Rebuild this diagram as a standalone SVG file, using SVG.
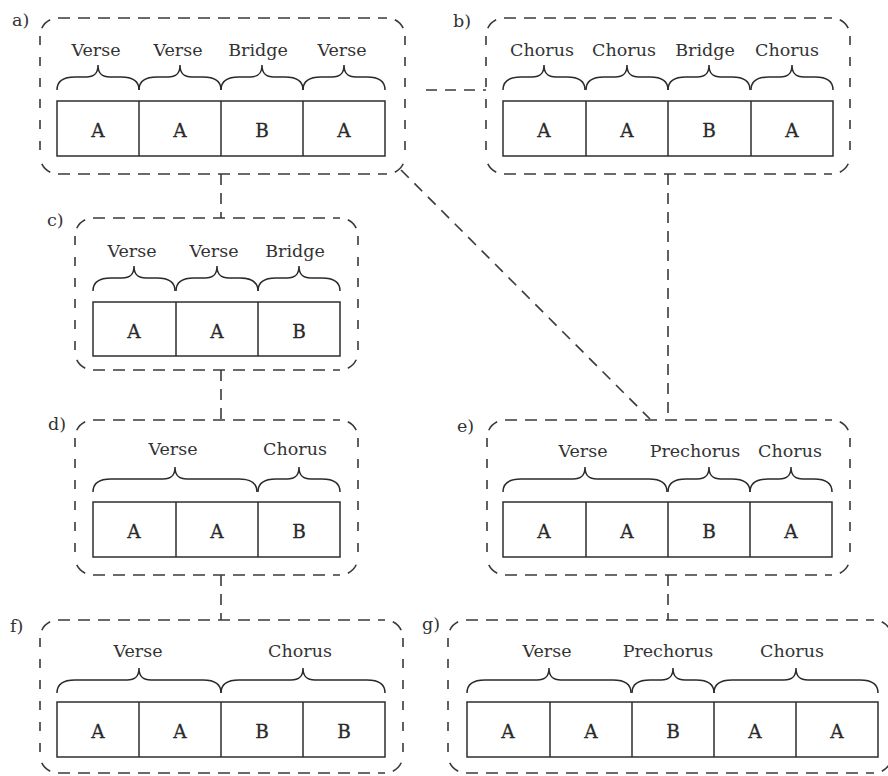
<svg xmlns="http://www.w3.org/2000/svg" xmlns:xlink="http://www.w3.org/1999/xlink" width="888" height="776" viewBox="0 0 888 776">
  <style>
    .h { fill: none; stroke: #3a3a3a; stroke-width: 1.6; stroke-dasharray: 12 8; }
    .v { fill: none; stroke: #3a3a3a; stroke-width: 1.6; stroke-dasharray: 9 12; }
    .c { fill: none; stroke: #3a3a3a; stroke-width: 1.6; stroke-dasharray: 0 8 12 20; }
    .link { fill: none; stroke: #3a3a3a; stroke-width: 1.6; stroke-dasharray: 11 8; }
    .cell { fill: none; stroke: #2e2e2e; stroke-width: 1.5; }
    .brace { fill: none; stroke: #2a2a2a; stroke-width: 1.5; }
    .lbl { font-family: "DejaVu Serif", "Liberation Serif", serif; font-size: 17.5px; fill: #333; text-anchor: middle; }
    .tag { font-family: "DejaVu Serif", "Liberation Serif", serif; font-size: 17.5px; fill: #333; }
    .sec { font-family: "DejaVu Serif", "Liberation Serif", serif; font-size: 18.5px; fill: #2a2a2a; stroke: #2a2a2a; stroke-width: 0.3; text-anchor: middle; }
  </style>
  <defs>
    <!-- curly braces drawn from their lower-left end point -->
    <path id="br1" class="brace" d="M0,0 C0,-8 6,-13 18,-13 L29,-13 C37,-13 41,-16 41,-25 C41,-16 45,-13 53,-13 L64,-13 C76,-13 82,-8 82,0"/>
    <path id="br2" class="brace" d="M0,0 C0,-8 6,-13 18,-13 L70,-13 C78,-13 82,-16 82,-25 C82,-16 86,-13 94,-13 L146,-13 C158,-13 164,-8 164,0"/>
  </defs>
  <rect width="888" height="776" fill="#fff"/>

  <!-- connectors -->
  <g id="connectors">
    <path class="link" d="M426,90 H486"/>
    <path class="link" d="M221,174 V218"/>
    <path class="link" d="M401,170 L650,419"/>
    <path class="link" d="M668,174 V420"/>
    <path class="link" d="M221,370 V420"/>
    <path class="link" d="M221,575 V620"/>
    <path class="link" d="M668,575 V620"/>
  </g>

  <!-- a) -->
  <g id="node-a">
    <path class="h" d="M58,18 H387 M58,174 H387"/>
    <path class="v" d="M40,36 V156 M405,36 V156"/>
    <path class="c" d="M40,36 A18,18 0 0 1 58,18 M387,18 A18,18 0 0 1 405,36 M405,156 A18,18 0 0 1 387,174 M58,174 A18,18 0 0 1 40,156"/>
    <text class="tag" x="12" y="26">a)</text>
    <use xlink:href="#br1" x="57" y="90"/>
    <use xlink:href="#br1" x="139" y="90"/>
    <use xlink:href="#br1" x="221" y="90"/>
    <use xlink:href="#br1" x="303" y="90"/>
    <text class="lbl" x="96" y="56">Verse</text>
    <text class="lbl" x="178" y="56">Verse</text>
    <text class="lbl" x="258" y="56">Bridge</text>
    <text class="lbl" x="342" y="56">Verse</text>
    <rect class="cell" x="57" y="101" width="328" height="55"/>
    <path class="cell" d="M139,101 V156 M221,101 V156 M303,101 V156"/>
    <text class="sec" x="98" y="137">A</text>
    <text class="sec" x="180" y="137">A</text>
    <text class="sec" x="262" y="137">B</text>
    <text class="sec" x="344" y="137">A</text>
  </g>

  <!-- b) -->
  <g id="node-b">
    <path class="h" d="M504,18 H832 M504,174 H832"/>
    <path class="v" d="M486,36 V156 M850,36 V156"/>
    <path class="c" d="M486,36 A18,18 0 0 1 504,18 M832,18 A18,18 0 0 1 850,36 M850,156 A18,18 0 0 1 832,174 M504,174 A18,18 0 0 1 486,156"/>
    <text class="tag" x="453" y="27">b)</text>
    <use xlink:href="#br1" x="503" y="90"/>
    <use xlink:href="#br1" x="586" y="90"/>
    <use xlink:href="#br1" x="668" y="90"/>
    <use xlink:href="#br1" x="751" y="90"/>
    <text class="lbl" x="542" y="56">Chorus</text>
    <text class="lbl" x="624" y="56">Chorus</text>
    <text class="lbl" x="705" y="56">Bridge</text>
    <text class="lbl" x="787" y="56">Chorus</text>
    <rect class="cell" x="503" y="101" width="330" height="55"/>
    <path class="cell" d="M586,101 V156 M668,101 V156 M751,101 V156"/>
    <text class="sec" x="544" y="137">A</text>
    <text class="sec" x="627" y="137">A</text>
    <text class="sec" x="709" y="137">B</text>
    <text class="sec" x="792" y="137">A</text>
  </g>

  <!-- c) -->
  <g id="node-c">
    <path class="h" d="M93,218 H340 M93,370 H340"/>
    <path class="v" d="M75,236 V352 M358,236 V352"/>
    <path class="c" d="M75,236 A18,18 0 0 1 93,218 M340,218 A18,18 0 0 1 358,236 M358,352 A18,18 0 0 1 340,370 M93,370 A18,18 0 0 1 75,352"/>
    <text class="tag" x="47" y="226">c)</text>
    <use xlink:href="#br1" x="93" y="291"/>
    <use xlink:href="#br1" x="176" y="291"/>
    <use xlink:href="#br1" x="258" y="291"/>
    <text class="lbl" x="132" y="257">Verse</text>
    <text class="lbl" x="214" y="257">Verse</text>
    <text class="lbl" x="295" y="257">Bridge</text>
    <rect class="cell" x="93" y="302" width="247" height="54"/>
    <path class="cell" d="M176,302 V356 M258,302 V356"/>
    <text class="sec" x="134" y="338">A</text>
    <text class="sec" x="217" y="338">A</text>
    <text class="sec" x="299" y="338">B</text>
  </g>

  <!-- d) -->
  <g id="node-d">
    <path class="h" d="M93,420 H340 M93,575 H340"/>
    <path class="v" d="M75,438 V557 M358,438 V557"/>
    <path class="c" d="M75,438 A18,18 0 0 1 93,420 M340,420 A18,18 0 0 1 358,438 M358,557 A18,18 0 0 1 340,575 M93,575 A18,18 0 0 1 75,557"/>
    <text class="tag" x="48" y="430">d)</text>
    <use xlink:href="#br2" x="93" y="492"/>
    <use xlink:href="#br1" x="258" y="492"/>
    <text class="lbl" x="173" y="455">Verse</text>
    <text class="lbl" x="295" y="455">Chorus</text>
    <rect class="cell" x="93" y="502" width="247" height="55"/>
    <path class="cell" d="M176,502 V557 M258,502 V557"/>
    <text class="sec" x="134" y="538">A</text>
    <text class="sec" x="217" y="538">A</text>
    <text class="sec" x="299" y="538">B</text>
  </g>

  <!-- e) -->
  <g id="node-e">
    <path class="h" d="M505,420 H832 M505,575 H832"/>
    <path class="v" d="M487,438 V557 M850,438 V557"/>
    <path class="c" d="M487,438 A18,18 0 0 1 505,420 M832,420 A18,18 0 0 1 850,438 M850,557 A18,18 0 0 1 832,575 M505,575 A18,18 0 0 1 487,557"/>
    <text class="tag" x="457" y="432">e)</text>
    <use xlink:href="#br2" x="503" y="492"/>
    <use xlink:href="#br1" x="668" y="492"/>
    <use xlink:href="#br1" x="750" y="492"/>
    <text class="lbl" x="583" y="457">Verse</text>
    <text class="lbl" x="695" y="457">Prechorus</text>
    <text class="lbl" x="790" y="457">Chorus</text>
    <rect class="cell" x="503" y="502" width="329" height="55"/>
    <path class="cell" d="M586,502 V557 M668,502 V557 M750,502 V557"/>
    <text class="sec" x="544" y="538">A</text>
    <text class="sec" x="627" y="538">A</text>
    <text class="sec" x="709" y="538">B</text>
    <text class="sec" x="791" y="538">A</text>
  </g>

  <!-- f) -->
  <g id="node-f">
    <path class="h" d="M58,620 H385 M58,773 H385"/>
    <path class="v" d="M40,638 V755 M403,638 V755"/>
    <path class="c" d="M40,638 A18,18 0 0 1 58,620 M385,620 A18,18 0 0 1 403,638 M403,755 A18,18 0 0 1 385,773 M58,773 A18,18 0 0 1 40,755"/>
    <text class="tag" x="10" y="632">f)</text>
    <use xlink:href="#br2" x="57" y="693"/>
    <use xlink:href="#br2" x="221" y="693"/>
    <text class="lbl" x="138" y="657">Verse</text>
    <text class="lbl" x="300" y="657">Chorus</text>
    <rect class="cell" x="57" y="702" width="328" height="55"/>
    <path class="cell" d="M139,702 V757 M221,702 V757 M303,702 V757"/>
    <text class="sec" x="98" y="738">A</text>
    <text class="sec" x="180" y="738">A</text>
    <text class="sec" x="262" y="738">B</text>
    <text class="sec" x="344" y="738">B</text>
  </g>

  <!-- g) -->
  <g id="node-g">
    <path class="h" d="M466,620 H874 M466,773 H874"/>
    <path class="v" d="M448,638 V755 M892,638 V755"/>
    <path class="c" d="M448,638 A18,18 0 0 1 466,620 M874,620 A18,18 0 0 1 892,638 M892,755 A18,18 0 0 1 874,773 M466,773 A18,18 0 0 1 448,755"/>
    <text class="tag" x="422" y="630">g)</text>
    <use xlink:href="#br2" x="467" y="693"/>
    <use xlink:href="#br1" x="632" y="693"/>
    <use xlink:href="#br2" x="714" y="693"/>
    <text class="lbl" x="547" y="657">Verse</text>
    <text class="lbl" x="668" y="657">Prechorus</text>
    <text class="lbl" x="792" y="657">Chorus</text>
    <rect class="cell" x="467" y="702" width="411" height="55"/>
    <path class="cell" d="M550,702 V757 M632,702 V757 M714,702 V757 M796,702 V757"/>
    <text class="sec" x="508" y="738">A</text>
    <text class="sec" x="591" y="738">A</text>
    <text class="sec" x="673" y="738">B</text>
    <text class="sec" x="755" y="738">A</text>
    <text class="sec" x="837" y="738">A</text>
  </g>
</svg>
